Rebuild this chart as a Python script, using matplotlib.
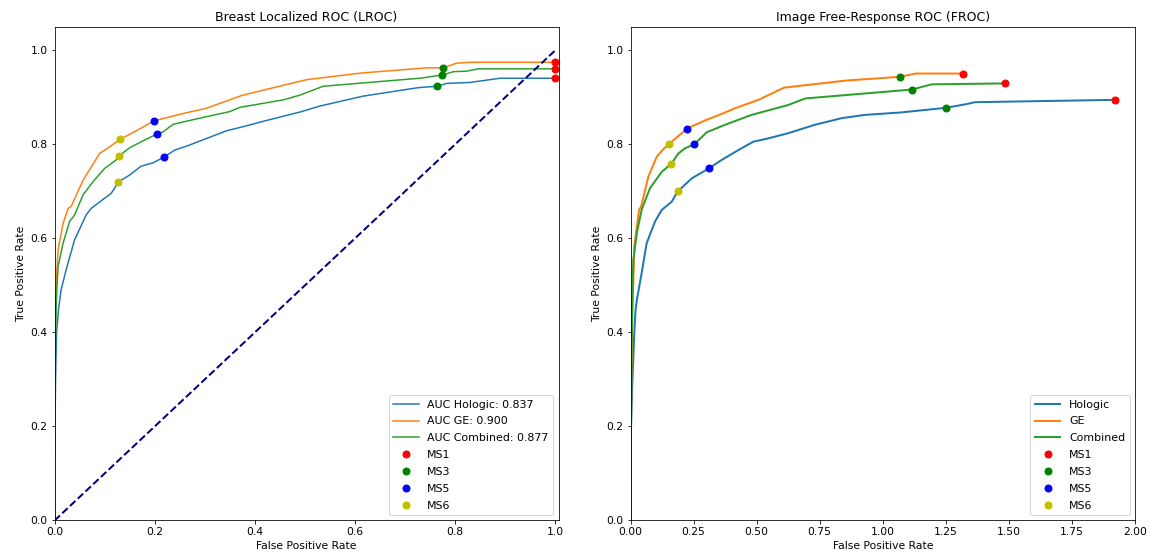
import matplotlib
matplotlib.use('Agg')
import matplotlib.pyplot as plt

# ─── LROC curves (left panel) ────────────────────────────────────────────────
lroc_hologic_fpr = [0.0, 0.0, 0.002, 0.004, 0.008, 0.013, 0.023, 0.040, 0.063, 0.073, 0.113, 0.120,
                    0.127, 0.150, 0.173, 0.197, 0.218, 0.240, 0.270, 0.343, 0.377, 0.423, 0.490,
                    0.531, 0.617, 0.727, 0.765, 0.783, 0.830, 0.890, 1.0]
lroc_hologic_tpr = [0.0, 0.12, 0.30, 0.40, 0.45, 0.49, 0.533, 0.597, 0.650, 0.664, 0.696, 0.707,
                    0.720, 0.735, 0.754, 0.761, 0.773, 0.788, 0.799, 0.829, 0.838, 0.851, 0.869,
                    0.882, 0.903, 0.921, 0.924, 0.930, 0.932, 0.941, 0.941]

lroc_ge_fpr = [0.0, 0.0, 0.002, 0.004, 0.007, 0.017, 0.027, 0.033, 0.057, 0.090, 0.110, 0.131,
               0.163, 0.198, 0.257, 0.303, 0.350, 0.376, 0.504, 0.612, 0.743, 0.777, 0.803,
               0.830, 1.0]
lroc_ge_tpr = [0.0, 0.20, 0.45, 0.52, 0.576, 0.632, 0.664, 0.668, 0.724, 0.781, 0.795, 0.811,
               0.829, 0.850, 0.866, 0.877, 0.895, 0.905, 0.938, 0.952, 0.963, 0.963, 0.973,
               0.975, 0.975]

lroc_comb_fpr = [0.0, 0.0, 0.002, 0.004, 0.007, 0.017, 0.030, 0.040, 0.057, 0.077, 0.100, 0.123,
                 0.129, 0.150, 0.177, 0.204, 0.217, 0.237, 0.290, 0.350, 0.370, 0.457, 0.490,
                 0.537, 0.730, 0.775, 0.797, 0.823, 0.847, 1.0]
lroc_comb_tpr = [0.0, 0.20, 0.40, 0.48, 0.540, 0.590, 0.636, 0.650, 0.693, 0.721, 0.749, 0.767,
                 0.776, 0.793, 0.808, 0.822, 0.827, 0.843, 0.856, 0.870, 0.879, 0.895, 0.905,
                 0.924, 0.941, 0.948, 0.955, 0.956, 0.961, 0.961]

lroc_auc = {'Hologic': 0.837, 'GE': 0.900, 'Combined': 0.877}

# operating points (Hologic, GE, Combined)
lroc_ms_x = {'MS1': [1.0, 1.0, 1.0], 'MS3': [0.765, 0.777, 0.775],
             'MS5': [0.218, 0.198, 0.204], 'MS6': [0.127, 0.131, 0.129]}
lroc_ms_y = {'MS1': [0.941, 0.975, 0.961], 'MS3': [0.924, 0.963, 0.948],
             'MS5': [0.773, 0.850, 0.822], 'MS6': [0.720, 0.811, 0.776]}

# ─── FROC curves (right panel) ───────────────────────────────────────────────
froc_hologic_fpr = [0.0, 0.002, 0.007, 0.015, 0.020, 0.025, 0.044, 0.064, 0.097, 0.124, 0.163,
                    0.187, 0.243, 0.310, 0.361, 0.427, 0.487, 0.546, 0.625, 0.731, 0.837, 0.929,
                    1.068, 1.249, 1.333, 1.365, 1.92]
froc_hologic_tpr = [0.0, 0.20, 0.29, 0.40, 0.448, 0.469, 0.526, 0.590, 0.636, 0.661, 0.678,
                    0.700, 0.728, 0.749, 0.767, 0.788, 0.806, 0.813, 0.824, 0.842, 0.856, 0.863,
                    0.868, 0.878, 0.886, 0.890, 0.895]

froc_ge_fpr = [0.0, 0.003, 0.008, 0.015, 0.025, 0.034, 0.042, 0.071, 0.104, 0.130, 0.151, 0.224,
               0.295, 0.361, 0.414, 0.507, 0.609, 0.853, 1.067, 1.133, 1.319]
froc_ge_tpr = [0.0, 0.30, 0.45, 0.583, 0.625, 0.661, 0.668, 0.732, 0.774, 0.790, 0.800, 0.834,
               0.851, 0.865, 0.877, 0.895, 0.921, 0.936, 0.944, 0.951, 0.951]

froc_comb_fpr = [0.0, 0.003, 0.006, 0.011, 0.025, 0.044, 0.077, 0.124, 0.162, 0.190, 0.216,
                 0.252, 0.302, 0.375, 0.480, 0.625, 0.693, 1.006, 1.116, 1.194, 1.486]
froc_comb_tpr = [0.0, 0.30, 0.45, 0.554, 0.611, 0.661, 0.707, 0.742, 0.759, 0.781, 0.792,
                 0.800, 0.826, 0.842, 0.863, 0.884, 0.898, 0.912, 0.917, 0.928, 0.930]

froc_ms_x = {'MS1': [1.92, 1.319, 1.486], 'MS3': [1.249, 1.067, 1.116],
             'MS5': [0.310, 0.224, 0.252], 'MS6': [0.187, 0.151, 0.162]}
froc_ms_y = {'MS1': [0.895, 0.951, 0.930], 'MS3': [0.878, 0.944, 0.917],
             'MS5': [0.749, 0.834, 0.800], 'MS6': [0.700, 0.800, 0.759]}

MS_STYLE = {'MS1': 'ro', 'MS3': 'go', 'MS5': 'bo', 'MS6': 'yo'}

# ─── Figure ──────────────────────────────────────────────────────────────────
plt.rcParams['font.size'] = 10.8
DPI = 72
fig = plt.figure(figsize=(1151 / DPI, 559 / DPI), dpi=DPI)
ax1 = fig.add_axes([0.0474, 0.0689, 0.4379, 0.8828])
ax2 = fig.add_axes([0.5478, 0.0689, 0.4383, 0.8828])

# Left: LROC
lw = 1.5
ax1.plot(lroc_hologic_fpr, lroc_hologic_tpr, color='C0', lw=lw,
         label=f"AUC Hologic: {lroc_auc['Hologic']:.3f}")
ax1.plot(lroc_ge_fpr, lroc_ge_tpr, color='C1', lw=lw,
         label=f"AUC GE: {lroc_auc['GE']:.3f}")
ax1.plot(lroc_comb_fpr, lroc_comb_tpr, color='C2', lw=lw,
         label=f"AUC Combined: {lroc_auc['Combined']:.3f}")
ax1.plot([0, 1], [0, 1], color='navy', lw=2, linestyle='--')
for ms, style in MS_STYLE.items():
    ax1.plot(lroc_ms_x[ms], lroc_ms_y[ms], style, markersize=7, label=ms, clip_on=False)
ax1.set_xlim([0.0, 1.007])
ax1.set_ylim([0.0, 1.05])
ax1.set_xlabel('False Positive Rate')
ax1.set_ylabel('True Positive Rate')
ax1.set_title('Breast Localized ROC (LROC)', fontsize=12.5)
ax1.legend(loc='lower right', fontsize=11, handlelength=2.3, labelspacing=0.62)

# Right: FROC
lw = 2
ax2.plot(froc_hologic_fpr, froc_hologic_tpr, color='C0', lw=lw, label='Hologic')
ax2.plot(froc_ge_fpr, froc_ge_tpr, color='C1', lw=lw, label='GE')
ax2.plot(froc_comb_fpr, froc_comb_tpr, color='C2', lw=lw, label='Combined')
for ms, style in MS_STYLE.items():
    ax2.plot(froc_ms_x[ms], froc_ms_y[ms], style, markersize=7, label=ms, clip_on=False)
ax2.set_xlim([0.0, 2.0])
ax2.set_ylim([0.0, 1.05])
ax2.set_xlabel('False Positive Rate')
ax2.set_ylabel('True Positive Rate')
ax2.set_title('Image Free-Response ROC (FROC)', fontsize=12.5)
ax2.legend(loc='lower right', fontsize=11, handlelength=2.3, labelspacing=0.62)

fig.savefig('out.png', dpi=DPI)
